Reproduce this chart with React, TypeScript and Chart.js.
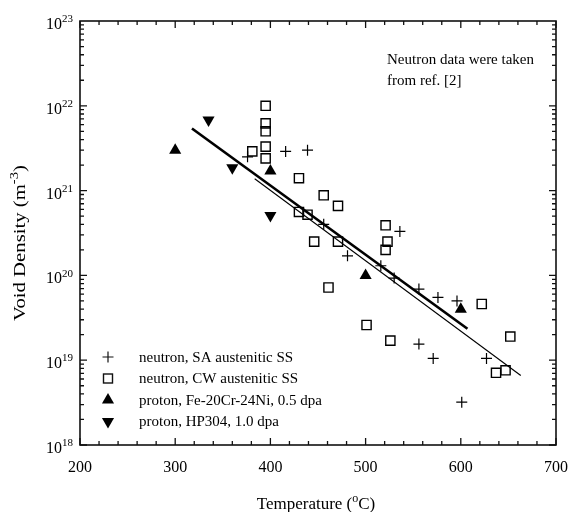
import React, { useEffect, useRef } from 'react';
import { Chart, registerables } from 'chart.js';
Chart.register(...registerables);

// neutron, SA austenitic SS
const saTemp = [376, 416, 439, 456, 481, 516, 530, 536, 556, 576, 596, 556, 571, 627, 601];
const saDensity = [2.5e21, 2.9e21, 3.0e21, 4.0e20, 1.7e20, 1.3e20, 9.3e19, 3.3e20, 6.9e19, 5.5e19, 5.0e19, 1.55e19, 1.05e19, 1.05e19, 3.2e18];
// neutron, CW austenitic SS
const cwTemp = [395, 395, 395, 395, 395, 381, 430, 456, 471, 430, 439, 446, 471, 461, 521, 523, 521, 501, 526, 622, 652, 637, 647];
const cwDensity = [1.0e22, 6.2e21, 5.0e21, 3.3e21, 2.4e21, 2.9e21, 1.4e21, 8.8e20, 6.6e20, 5.6e20, 5.2e20, 2.5e20, 2.5e20, 7.2e19, 3.9e20, 2.5e20, 2.0e20, 2.6e19, 1.7e19, 4.6e19, 1.9e19, 7.1e18, 7.6e18];
// proton, Fe-20Cr-24Ni, 0.5 dpa
const feTemp = [300, 400, 500, 600];
const feDensity = [3.0e21, 1.7e21, 1.0e20, 4.0e19];
// proton, HP304, 1.0 dpa
const hpTemp = [335, 360, 400];
const hpDensity = [6.8e21, 1.86e21, 5.1e20];
// fit lines
const fitThickTemp = [317.6, 607];
const fitThickDensity = [5.4e21, 2.35e19];
const fitThinTemp = [383.5, 663];
const fitThinDensity = [1.38e21, 6.6e18];

const xTickValues = [200, 300, 400, 500, 600, 700];
const yExponents = [18, 19, 20, 21, 22, 23];
const legendLabels = [
  'neutron, SA austenitic SS',
  'neutron, CW austenitic SS',
  'proton, Fe-20Cr-24Ni, 0.5 dpa',
  'proton, HP304, 1.0 dpa',
];
const noteLines = ['Neutron data were taken', 'from ref. [2]'];

const SERIF = "'Liberation Serif', 'DejaVu Serif', serif";

type Part = { t: string; sup?: boolean };

function drawParts(ctx: CanvasRenderingContext2D, parts: Part[], x: number, y: number, size: number, align: 'left' | 'center' | 'right') {
  const supSize = Math.round(size * 0.68);
  let total = 0;
  const widths = parts.map((p) => {
    ctx.font = `${p.sup ? supSize : size}px ${SERIF}`;
    const w = ctx.measureText(p.t).width;
    total += w;
    return w;
  });
  let cx = align === 'left' ? x : align === 'center' ? x - total / 2 : x - total;
  ctx.textAlign = 'left';
  ctx.textBaseline = 'alphabetic';
  parts.forEach((p, i) => {
    ctx.font = `${p.sup ? supSize : size}px ${SERIF}`;
    ctx.fillText(p.t, cx, p.sup ? y - size * 0.42 : y);
    cx += widths[i];
  });
}

const decorPlugin = {
  id: 'decor',
  afterDraw(chart: any) {
    const ctx: CanvasRenderingContext2D = chart.ctx;
    const { left, right, top, bottom } = chart.chartArea;
    const xs = chart.scales.x;
    const ys = chart.scales.y;
    ctx.save();
    ctx.strokeStyle = '#111';
    ctx.fillStyle = '#000';
    // frame
    ctx.lineWidth = 1.6;
    ctx.strokeRect(left, top, right - left, bottom - top);
    // x ticks
    ctx.lineWidth = 1.3;
    for (let v = 200; v <= 700; v += 20) {
      const px = xs.getPixelForValue(v);
      const len = v % 100 === 0 ? 7 : 4;
      ctx.beginPath();
      ctx.moveTo(px, bottom);
      ctx.lineTo(px, bottom - len);
      ctx.moveTo(px, top);
      ctx.lineTo(px, top + len);
      ctx.stroke();
    }
    // y ticks
    for (let e = 18; e < 23; e++) {
      for (let m = 1; m <= 9; m++) {
        const py = ys.getPixelForValue(m * Math.pow(10, e));
        const len = m === 1 ? 7 : 4;
        ctx.beginPath();
        ctx.moveTo(left, py);
        ctx.lineTo(left + len, py);
        ctx.moveTo(right, py);
        ctx.lineTo(right - len, py);
        ctx.stroke();
      }
    }
    // x tick labels
    ctx.font = `16px ${SERIF}`;
    ctx.textAlign = 'center';
    ctx.textBaseline = 'middle';
    xTickValues.forEach((v) => {
      ctx.fillText(String(v), xs.getPixelForValue(v), bottom + 23);
    });
    // y tick labels
    yExponents.forEach((e) => {
      const py = ys.getPixelForValue(Math.pow(10, e));
      drawParts(ctx, [{ t: '10' }, { t: String(e), sup: true }], 73, py + 8, 16, 'right');
    });
    // axis titles
    drawParts(ctx, [{ t: 'Temperature (' }, { t: 'o', sup: true }, { t: 'C)' }], 316, 509, 17, 'center');
    ctx.save();
    ctx.translate(25, 243);
    ctx.rotate(-Math.PI / 2);
    ctx.scale(1.22, 1);
    drawParts(ctx, [{ t: 'Void Density (m' }, { t: '-3', sup: true }, { t: ')' }], 0, 0, 17, 'center');
    ctx.restore();
    // annotation
    ctx.font = `15px ${SERIF}`;
    ctx.textAlign = 'left';
    ctx.textBaseline = 'middle';
    noteLines.forEach((l, i) => ctx.fillText(l, 387, 60 + i * 21));
    // legend
    const rows = [357, 378.5, 400, 421.5];
    const mx = 108;
    ctx.lineWidth = 1.2;
    ctx.beginPath();
    ctx.moveTo(mx - 5.5, rows[0]);
    ctx.lineTo(mx + 5.5, rows[0]);
    ctx.moveTo(mx, rows[0] - 5.5);
    ctx.lineTo(mx, rows[0] + 5.5);
    ctx.stroke();
    ctx.lineWidth = 1.4;
    ctx.strokeRect(mx - 4.5, rows[1] - 4.5, 9, 9);
    const r = 7;
    ctx.beginPath();
    ctx.moveTo(mx, rows[2] - r);
    ctx.lineTo(mx + r * 0.866, rows[2] + r * 0.5);
    ctx.lineTo(mx - r * 0.866, rows[2] + r * 0.5);
    ctx.closePath();
    ctx.fill();
    ctx.beginPath();
    ctx.moveTo(mx, rows[3] + r);
    ctx.lineTo(mx + r * 0.866, rows[3] - r * 0.5);
    ctx.lineTo(mx - r * 0.866, rows[3] - r * 0.5);
    ctx.closePath();
    ctx.fill();
    ctx.font = `15px ${SERIF}`;
    ctx.textAlign = 'left';
    ctx.textBaseline = 'middle';
    legendLabels.forEach((l, i) => ctx.fillText(l, 139, rows[i] + 1));
    ctx.restore();
  },
};

function pts(xs: number[], ys: number[]) {
  return xs.map((x, i) => ({ x, y: ys[i] }));
}

export default function App() {
  const ref = useRef<HTMLCanvasElement | null>(null);
  useEffect(() => {
    document.body.style.margin = '0';
    const canvas = ref.current!;
    const chart = new Chart(canvas, {
      type: 'scatter',
      data: {
        datasets: [
          {
            label: 'fit thick',
            data: pts(fitThickTemp, fitThickDensity),
            showLine: true,
            borderColor: '#000',
            borderWidth: 2.6,
            pointRadius: 0,
          } as any,
          {
            label: 'fit thin',
            data: pts(fitThinTemp, fitThinDensity),
            showLine: true,
            borderColor: '#000',
            borderWidth: 1.1,
            pointRadius: 0,
          } as any,
          {
            label: legendLabels[0],
            data: pts(saTemp, saDensity),
            pointStyle: 'cross',
            pointRadius: 5.5,
            borderColor: '#000',
            borderWidth: 1.2,
          },
          {
            label: legendLabels[1],
            data: pts(cwTemp, cwDensity),
            pointStyle: 'rect',
            pointRadius: 6.5,
            borderColor: '#000',
            backgroundColor: 'rgba(255,255,255,0)',
            borderWidth: 1.4,
          },
          {
            label: legendLabels[2],
            data: pts(feTemp, feDensity),
            pointStyle: 'triangle',
            pointRadius: 7,
            borderColor: '#000',
            backgroundColor: '#000',
            borderWidth: 0,
          },
          {
            label: legendLabels[3],
            data: pts(hpTemp, hpDensity),
            pointStyle: 'triangle',
            rotation: 180,
            pointRadius: 7,
            borderColor: '#000',
            backgroundColor: '#000',
            borderWidth: 0,
          } as any,
        ],
      },
      options: {
        animation: false,
        responsive: false,
        devicePixelRatio: 1,
        layout: { padding: { left: 80, right: 16, top: 21, bottom: 67 } },
        plugins: { legend: { display: false }, tooltip: { enabled: false } },
        scales: {
          x: { type: 'linear', min: 200, max: 700, display: false },
          y: { type: 'logarithmic', min: 1e18, max: 1e23, display: false },
        },
      },
      plugins: [decorPlugin],
    });
    return () => chart.destroy();
  }, []);
  return <canvas ref={ref} width={572} height={512} style={{ display: 'block', width: 572, height: 512 }} />;
}
